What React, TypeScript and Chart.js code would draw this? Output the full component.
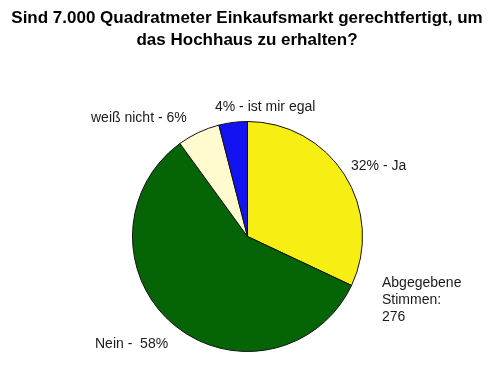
import React, { useEffect, useRef } from "react";
import { Chart, registerables } from "chart.js";

Chart.register(...registerables);

const titleLines = [
  "Sind 7.000 Quadratmeter Einkaufsmarkt gerechtfertigt, um",
  "das Hochhaus zu erhalten?",
];
const categories = ["Ja", "Nein", "weiß nicht", "ist mir egal"];
const values = [32, 58, 6, 4];
const sliceLabels = ["32% - Ja", "Nein -  58%", "weiß nicht - 6%", "4% - ist mir egal"];
const colors = ["#F7EE14", "#056506", "#FFFBCF", "#1313F2"];
const noteLines = ["Abgegebene", "Stimmen:", "276"];

export default function App() {
  const ref = useRef<HTMLCanvasElement | null>(null);

  useEffect(() => {
    document.body.style.margin = "0";
    const canvas = ref.current;
    if (!canvas) return;

    const textPlugin = {
      id: "textPlugin",
      afterDraw(chart: any) {
        const ctx = chart.ctx as CanvasRenderingContext2D;
        ctx.save();
        ctx.fillStyle = "#000";
        ctx.font = "bold 17px 'Liberation Sans', Arial, sans-serif";
        ctx.textAlign = "center";
        ctx.textBaseline = "middle";
        ctx.fillText(titleLines[0], 247, 18);
        ctx.fillText(titleLines[1], 247, 40);

        ctx.font = "14px 'Liberation Sans', Arial, sans-serif";
        ctx.fillStyle = "#1a1a1a";
        ctx.textAlign = "left";
        ctx.textBaseline = "alphabetic";
        // label anchors (baseline)
        const pos: [number, number][] = [
          [351, 170],
          [95, 348],
          [91, 122],
          [215, 111],
        ];
        sliceLabels.forEach((t, i) => {
          ctx.fillText(t, pos[i][0], pos[i][1]);
        });
        noteLines.forEach((t, i) => {
          ctx.fillText(t, 382, 287 + i * 17);
        });
        ctx.restore();
      },
    };

    const chart = new Chart(canvas, {
      type: "pie",
      data: {
        labels: categories,
        datasets: [
          {
            data: values,
            backgroundColor: colors,
            borderColor: "#111",
            borderWidth: 1,
            radius: 115,
          } as any,
        ],
      },
      options: {
        animation: false,
        responsive: false,
        devicePixelRatio: 1,
        layout: { padding: { left: 132, right: 137, top: 121, bottom: 15 } },
        plugins: {
          legend: { display: false },
          title: { display: false },
          tooltip: { enabled: false },
        },
      },
      plugins: [textPlugin],
    });
    return () => chart.destroy();
  }, []);

  return (
    <div style={{ position: "absolute", left: 0, top: 0, width: 500, height: 367, background: "#fff" }}>
      <canvas ref={ref} width={500} height={367} style={{ display: "block" }} />
    </div>
  );
}
